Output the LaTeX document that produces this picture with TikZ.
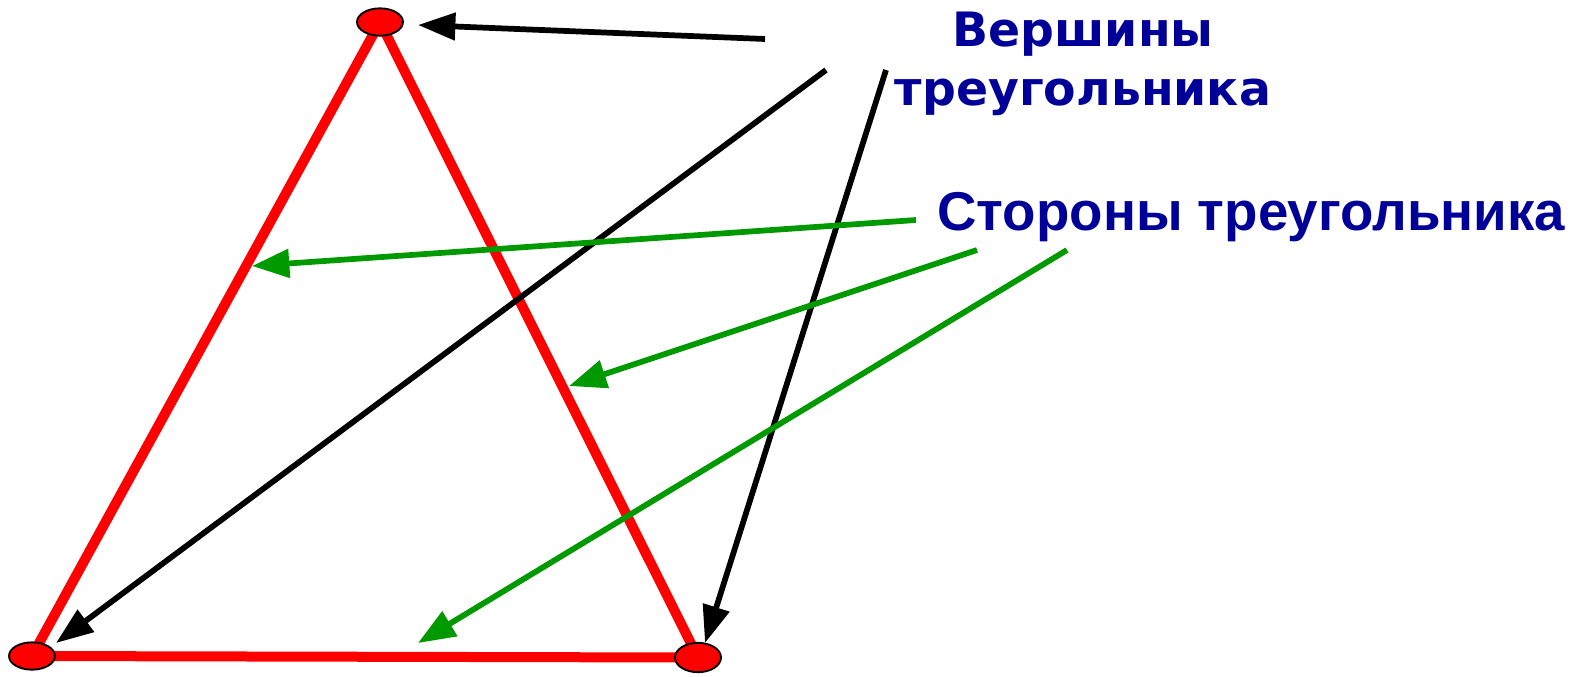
\documentclass[tikz,border=0pt]{standalone}
\usepackage{fontspec}
\usetikzlibrary{arrows.meta,shapes.geometric}
\newfontfamily\verdfont{DejaVu Sans}
\newfontfamily\arialfont{Liberation Sans}
\definecolor{vred}{RGB}{255,0,0}
\definecolor{lblue}{RGB}{0,0,153}
\definecolor{agreen}{RGB}{0,153,0}
\tikzset{
  vertex/.style={ellipse, draw=black, line width=1.4pt, fill=vred, minimum width=34.5pt, minimum height=20.5pt, inner sep=0pt},
  side/.style={draw=vred, line width=7.5pt},
  blackarrow/.style={draw=black, line width=4.3pt, -{Triangle[length=28pt,width=20pt]}},
  greenarrow/.style={draw=agreen, line width=4.3pt, -{Triangle[length=28pt,width=21pt]}},
  lbl/.style={text=lblue, inner sep=0pt}
}
\begin{document}
\begin{tikzpicture}[x=0.75pt,y=-0.75pt]
\useasboundingbox (0,0) rectangle (1583,676);
% vertices coordinates
\coordinate (A) at (380,22);
\coordinate (B) at (32,656);
\coordinate (C) at (698,657.5);
\draw[side] (A) -- (B);
\draw[side] (A) -- (C);
\draw[side] (B) -- (C);
\node[vertex] (vA) at (A) {};
\node[vertex] (vB) at (B) {};
\node[vertex, minimum height=22pt] (vC) at (C) {};
% labels
\node[lbl, anchor=north, align=center, font=\verdfont\bfseries\fontsize{35.5}{44}\selectfont] (lv) at (1083,12) {Вершины\\треугольника};
\node[lbl, anchor=base west, font=\arialfont\bfseries\fontsize{41}{44}\selectfont] (ls) at (937,230) {Стороны треугольника};
% black arrows
\coordinate (b1s) at (765,39);
\coordinate (b1e) at (418,25);
\coordinate (b2s) at (826,70);
\coordinate (b2e) at (56,643);
\coordinate (b3s) at (886,70);
\coordinate (b3e) at (705,643);
\draw[blackarrow] (b1s) -- (b1e);
\draw[blackarrow] (b2s) -- (b2e);
\draw[blackarrow] (b3s) -- (b3e);
% green arrows
\coordinate (g1s) at (916,220);
\coordinate (g1e) at (252,266);
\coordinate (g2s) at (977,250);
\coordinate (g2e) at (569,386);
\coordinate (g3s) at (1067,250);
\coordinate (g3e) at (418,643);
\draw[greenarrow] (g1s) -- (g1e);
\draw[greenarrow] (g2s) -- (g2e);
\draw[greenarrow] (g3s) -- (g3e);
\end{tikzpicture}
\end{document}
